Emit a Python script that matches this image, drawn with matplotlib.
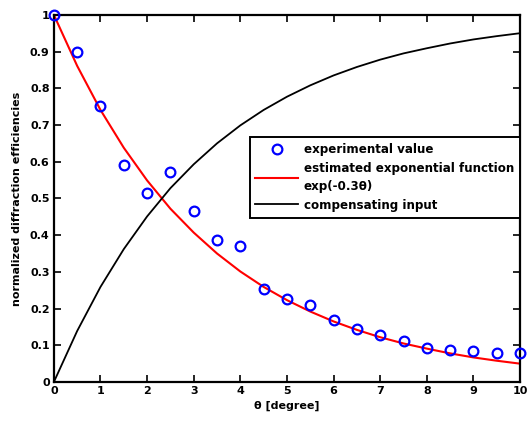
import matplotlib
matplotlib.use("Agg")
import matplotlib.pyplot as plt

theta_exp = [0, 0.5, 1, 1.5, 2, 2.5, 3, 3.5, 4, 4.5, 5, 5.5, 6, 6.5, 7, 7.5, 8, 8.5, 9, 9.5, 10]
eff_exp = [1.0, 0.90, 0.753, 0.592, 0.516, 0.571, 0.467, 0.388, 0.370, 0.253, 0.225,
           0.209, 0.168, 0.145, 0.127, 0.113, 0.093, 0.087, 0.084, 0.080, 0.080]

theta_fit = [0, 0.5, 1, 1.5, 2, 2.5, 3, 3.5, 4, 4.5, 5, 5.5, 6, 6.5, 7, 7.5, 8, 8.5, 9, 9.5, 10]
eff_fit = [1.0, 0.861, 0.741, 0.638, 0.549, 0.472, 0.407, 0.350, 0.301, 0.259, 0.223,
           0.192, 0.165, 0.142, 0.122, 0.105, 0.091, 0.078, 0.067, 0.058, 0.050]
comp_input = [0.0, 0.139, 0.259, 0.362, 0.451, 0.528, 0.593, 0.650, 0.699, 0.741, 0.777,
              0.808, 0.835, 0.858, 0.878, 0.895, 0.909, 0.922, 0.933, 0.942, 0.950]

xticks = [0, 1, 2, 3, 4, 5, 6, 7, 8, 9, 10]
yticks = [0, 0.1, 0.2, 0.3, 0.4, 0.5, 0.6, 0.7, 0.8, 0.9, 1]
yticklabels = ["0", "0.1", "0.2", "0.3", "0.4", "0.5", "0.6", "0.7", "0.8", "0.9", "1"]

plt.rcParams['font.family'] = ['DejaVu Sans']
plt.rcParams['font.weight'] = 'bold'

fig = plt.figure(figsize=(5.28, 4.24), dpi=100)
ax = fig.add_axes([0.102, 0.099, 0.883, 0.866])

ax.plot(theta_exp, eff_exp, 'o', markerfacecolor='none', markeredgecolor='#0000ff',
        markersize=7, markeredgewidth=1.6, label='experimental value', clip_on=False, zorder=3)
ax.plot(theta_fit, eff_fit, '-', color='#ff0000', linewidth=1.5,
        label='estimated exponential function\nexp(-0.3θ)')
ax.plot(theta_fit, comp_input, '-', color='black', linewidth=1.3, label='compensating input')

ax.set_xlim(0, 10)
ax.set_ylim(0, 1)
ax.set_xticks(xticks)
ax.set_yticks(yticks)
ax.set_yticklabels(yticklabels)
ax.tick_params(direction='in', top=True, right=True, length=5, width=1.2, labelsize=8, pad=3)
for lab in ax.get_xticklabels() + ax.get_yticklabels():
    lab.set_fontweight('bold')
for s in ax.spines.values():
    s.set_linewidth(1.6)

ax.set_xlabel('θ [degree]', fontsize=8, fontweight='bold', labelpad=3)
ax.set_ylabel('normalized diffraction efficiencies', fontsize=8, fontweight='bold', labelpad=6)

leg = ax.legend(loc='upper right', bbox_to_anchor=(1.0, 0.668), fontsize=8.6,
                frameon=True, fancybox=False, edgecolor='black', framealpha=1,
                handlelength=3.6, borderaxespad=0, labelspacing=0.5, borderpad=0.5,
                handletextpad=0.45)
leg.get_frame().set_linewidth(1.4)
for t in leg.get_texts():
    t.set_fontweight('bold')
    t.set_linespacing(1.5)

fig.savefig('out.png', dpi=100)
